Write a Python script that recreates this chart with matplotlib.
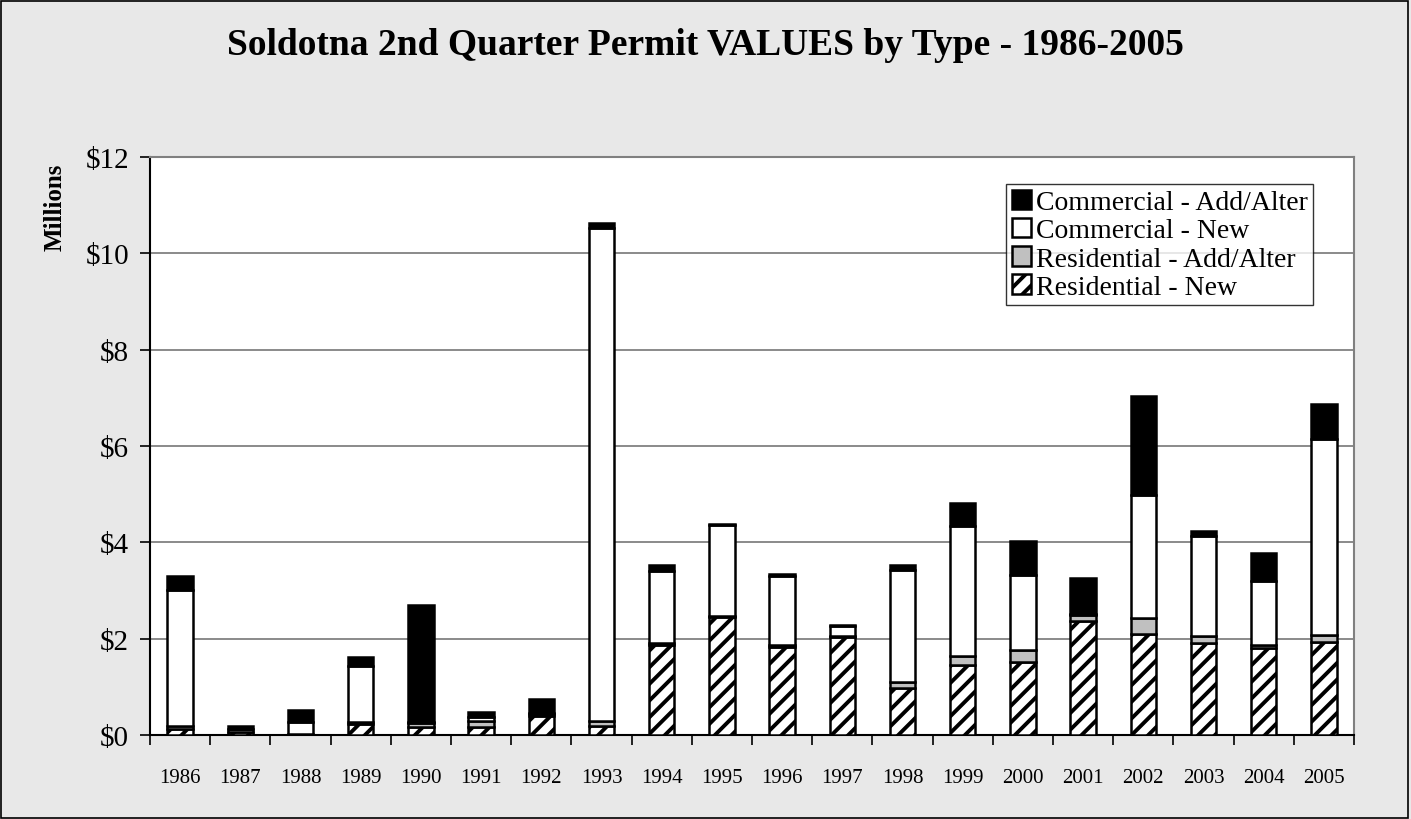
import numpy as np
import matplotlib
matplotlib.use("Agg")
from matplotlib import pyplot as plt
from matplotlib.patches import Rectangle
from matplotlib.ticker import FuncFormatter, MultipleLocator

years = ["1986", "1987", "1988", "1989", "1990", "1991", "1992", "1993", "1994", "1995",
         "1996", "1997", "1998", "1999", "2000", "2001", "2002", "2003", "2004", "2005"]

# values in millions of dollars
res_new = [0.12, 0.06, 0.02, 0.22, 0.17, 0.17, 0.40, 0.19, 1.87, 2.45,
           1.83, 2.03, 0.97, 1.45, 1.52, 2.36, 2.09, 1.91, 1.80, 1.93]
res_add = [0.07, 0.06, 0.01, 0.06, 0.08, 0.12, 0.03, 0.10, 0.04, 0.03,
           0.04, 0.03, 0.13, 0.20, 0.24, 0.14, 0.33, 0.14, 0.06, 0.15]
com_new = [2.83, 0.00, 0.25, 1.15, 0.02, 0.08, 0.02, 10.23, 1.50, 1.88,
           1.43, 0.20, 2.32, 2.70, 1.56, 0.01, 2.57, 2.09, 1.34, 4.07]
com_add = [0.28, 0.07, 0.23, 0.19, 2.42, 0.10, 0.29, 0.10, 0.12, 0.03,
           0.05, 0.02, 0.10, 0.46, 0.71, 0.75, 2.04, 0.10, 0.57, 0.72]

plt.rcParams["font.family"] = ["Liberation Serif", "DejaVu Serif"]
plt.rcParams["hatch.linewidth"] = 2.8

fig = plt.figure(figsize=(14.11, 8.2), dpi=100)
fig.patch.set_facecolor("#E8E8E8")
fig.patches.append(Rectangle((0.001, 0.001), 0.997, 0.997, transform=fig.transFigure,
                             fill=False, edgecolor="black", linewidth=1.2))

ax = fig.add_axes([0.1063, 0.1024, 0.8533, 0.7049])
ax.set_facecolor("white")

x = np.arange(len(years))
w = 0.42
kw = dict(width=w, edgecolor="black", linewidth=1.8, zorder=3)

b1 = ax.bar(x, res_new, color="white", hatch="//", label="Residential - New", **kw)
bottom = np.array(res_new)
b2 = ax.bar(x, res_add, bottom=bottom, color="#C0C0C0", label="Residential - Add/Alter", **kw)
bottom = bottom + np.array(res_add)
b3 = ax.bar(x, com_new, bottom=bottom, color="white", label="Commercial - New", **kw)
bottom = bottom + np.array(com_new)
b4 = ax.bar(x, com_add, bottom=bottom, color="black", label="Commercial - Add/Alter", **kw)

ax.set_ylim(0, 12)
ax.set_xlim(-0.5, len(years) - 0.5)
ax.yaxis.set_major_locator(MultipleLocator(2))
ax.yaxis.set_major_formatter(FuncFormatter(lambda v, p: f"${v:.0f}"))
ax.grid(axis="y", color="#777777", linewidth=1.2, zorder=0)
ax.set_axisbelow(True)

ax.set_xticks(x)
ax.set_xticklabels(years, fontsize=15)
ax.set_xticks(np.arange(len(years) + 1) - 0.5, minor=True)
ax.tick_params(axis="x", which="major", length=0, pad=24)
ax.tick_params(axis="x", which="minor", length=7, width=1.2, direction="out")
ax.tick_params(axis="y", labelsize=21, length=7, width=1.2, direction="out", pad=8)

for side in ["left", "bottom"]:
    ax.spines[side].set_color("black")
    ax.spines[side].set_linewidth(1.5)
for side in ["top", "right"]:
    ax.spines[side].set_color("#808080")
    ax.spines[side].set_linewidth(1.5)

fig.text(0.039, 0.747, "Millions", rotation=90, ha="center", va="center",
         fontsize=18, fontweight="bold")
fig.text(0.5, 0.945, "Soldotna 2nd Quarter Permit VALUES by Type - 1986-2005",
         ha="center", va="center", fontsize=27, fontweight="bold")

leg = ax.legend(handles=[b4, b3, b2, b1], loc="upper right", bbox_to_anchor=(0.966, 0.953),
                fontsize=20, frameon=True, fancybox=False, handlelength=0.7,
                handleheight=0.7, handletextpad=0.15, borderpad=0.2, labelspacing=0.1,
                borderaxespad=0)
leg.get_frame().set_edgecolor("black")
leg.get_frame().set_linewidth(1.0)

fig.savefig("out.png", dpi=100, facecolor=fig.get_facecolor())
